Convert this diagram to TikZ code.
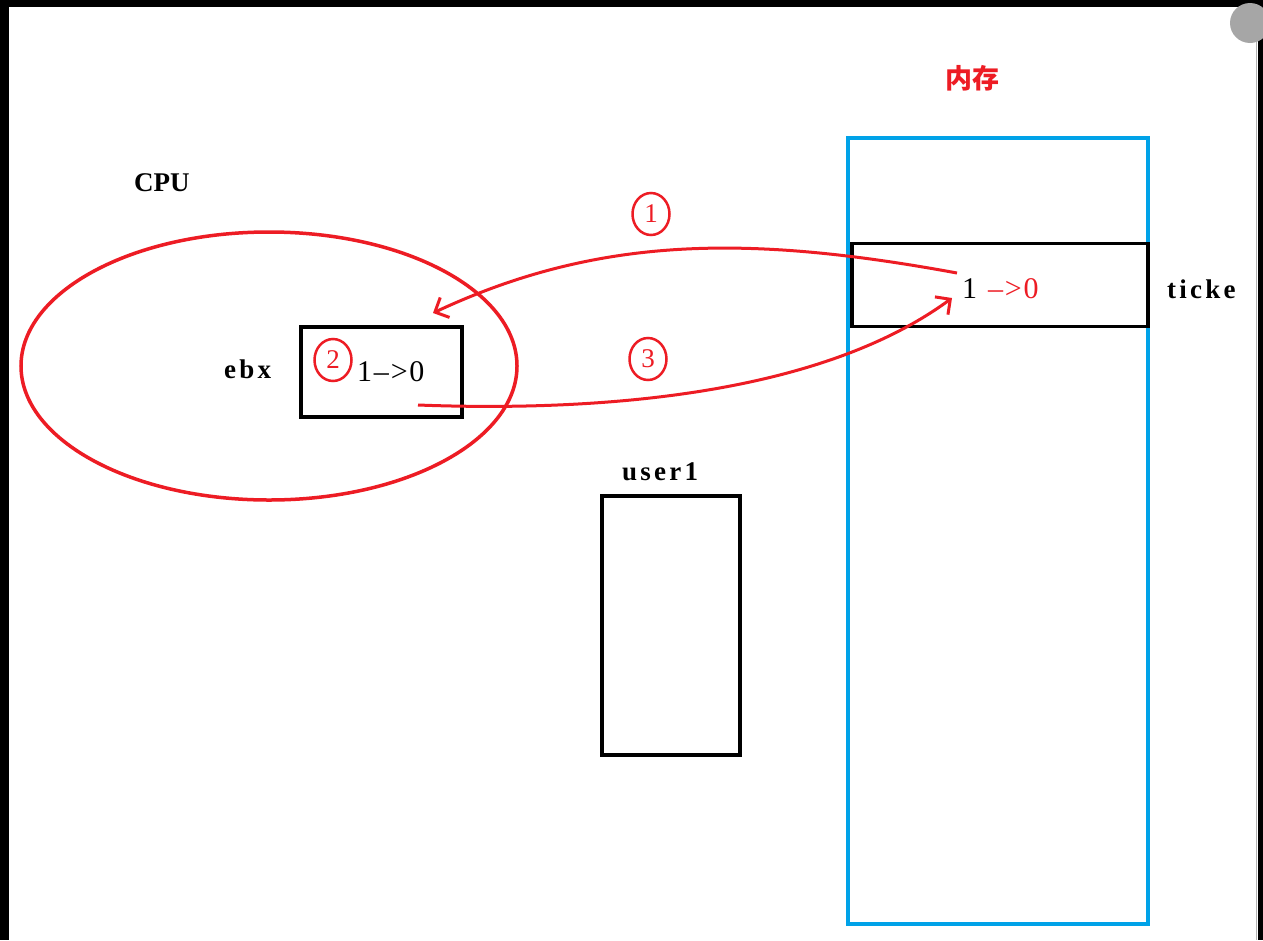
\documentclass[tikz,border=0pt]{standalone}
\usepackage{fontspec}
\setmainfont{Liberation Serif}
\newfontfamily\spacedfont[LetterSpace=12]{Liberation Serif}
\newfontfamily\valfont[LetterSpace=6]{Liberation Serif}
\newfontfamily\cjkfont{Noto Sans CJK SC}
\usetikzlibrary{arrows.meta,shapes.geometric}
\definecolor{pred}{RGB}{237,28,36}
\definecolor{pblue}{RGB}{0,162,232}

\begin{document}
\begin{tikzpicture}[x=1pt, y=-1pt, >={Straight Barb[length=11pt,width=22pt]},
  lbl/.style={inner sep=0pt, font=\fontsize{27}{30}\selectfont\spacedfont\bfseries},
  val/.style={inner sep=0pt, font=\fontsize{30}{32}\selectfont\valfont},
  box/.style={draw, line width=3.5pt, inner sep=0pt},
  num/.style={ellipse, draw=pred, text=pred, line width=2.5pt, inner sep=0pt,
    minimum width=37pt, minimum height=42pt, font=\fontsize{27}{30}\selectfont},
  arr/.style={draw=pred, line width=3pt, ->}]
\useasboundingbox (0,0) rectangle (1263,940);
\fill[white] (0,0) rectangle (1263,940);
\fill[black] (0,0) rectangle (1263,7);
\fill[black] (0,0) rectangle (9,940);
\fill[black] (1258,0) rectangle (1263,940);
\draw[gray!60, line width=1pt] (1256,8) -- (1256,940);
\fill[gray!70] (1250,23) circle (20pt);

\node[inner sep=0pt, anchor=base west, font=\fontsize{27}{30}\selectfont\bfseries] (cpulbl) at (134,191) {CPU};
\node[ellipse, draw=pred, line width=3.5pt, minimum width=496pt, minimum height=268pt] (cpu) at (269,366) {};
\node[lbl, anchor=base west] (ebxlbl) at (224,378) {ebx};
\node[box, minimum width=161pt, minimum height=90pt] (ebx) at (381.5,372) {};
\node[val, anchor=base west] (ebxval) at (357,381) {1–>0};
\node[num] (n2) at (333,360) {2};

\node[font=\fontsize{27}{30}\selectfont\cjkfont\bfseries, text=pred] (memlbl) at (972,78) {内存};
\node[draw=pblue, line width=3.5pt, minimum width=300pt, minimum height=786pt] (mem) at (998,531) {};
\node[box, minimum width=296pt, minimum height=83pt] (ticket) at (1000,285) {};
\node[val, anchor=base west] (tkone) at (962,298) {1};
\node[val, anchor=base west, text=pred] (tknew) at (988,298) {–>0};
\begin{scope}
  \clip (1150,250) rectangle (1238,330);
  \node[lbl, anchor=base west] (tklbl) at (1167,298) {ticket};
\end{scope}

\node[lbl, anchor=base west] (userlbl) at (622,480) {user1};
\node[box, minimum width=138pt, minimum height=259pt] (user) at (671,625.5) {};

\node[num] (n1) at (651,214) {1};
\node[num] (n3) at (648,359) {3};

\coordinate (a1s) at (957,273);
\coordinate (a1e) at (433,313);
\coordinate (a3s) at (418,405);
\coordinate (a3e) at (952,298);
\draw[arr] (a1s) .. controls (750,235) and (600,235) .. (a1e);
\draw[arr] (a3s) .. controls (600,412) and (820,395) .. (a3e);
\end{tikzpicture}
\end{document}
